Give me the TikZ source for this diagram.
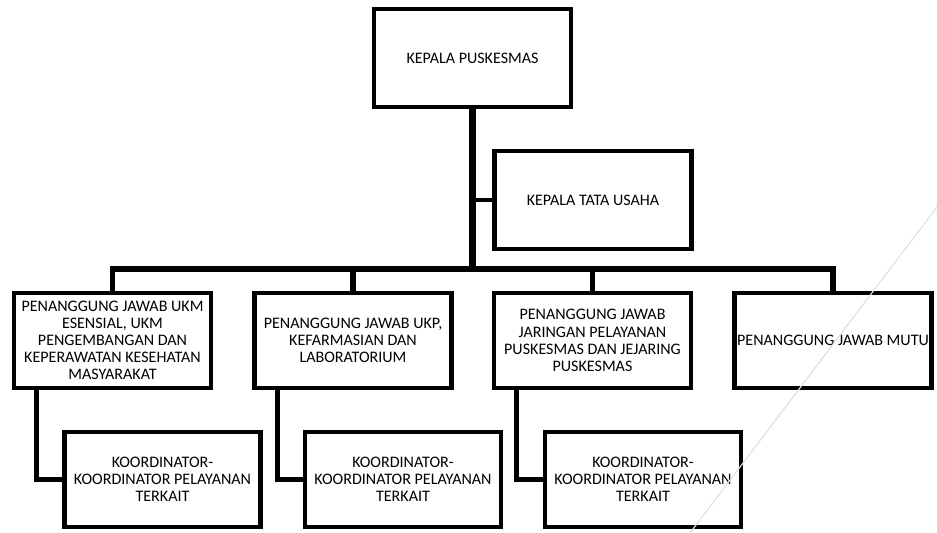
\documentclass[tikz,border=0pt]{standalone}
\usepackage{fontspec}
\setmainfont{Carlito}
\usepackage{tikz}
\usetikzlibrary{calc}

\begin{document}
\begin{tikzpicture}[
      kotak/.style={rectangle, draw, line width=4pt, inner sep=0pt, align=center, font=\fontsize{13.7}{14.6}\selectfont},
      kepala/.style={kotak, minimum width=5.91cm, minimum height=2.94cm},
      pj/.style={kotak, minimum width=5.91cm, minimum height=2.85cm},
      koor/.style={kotak, minimum width=5.88cm, minimum height=2.85cm},
      garis/.style={line width=4.5pt}]
      \useasboundingbox (0,0) rectangle (28.11,15.99);

      \node[kepala] (kapus) at (14.175,14.25) {KEPALA PUSKESMAS};
      \node[kepala] (ktu) at (17.79,9.99) {KEPALA TATA USAHA};

      \node[pj] (pj1) at (3.375,5.775) {PENANGGUNG JAWAB UKM\\ESENSIAL, UKM\\PENGEMBANGAN DAN\\KEPERAWATAN KESEHATAN\\MASYARAKAT};
      \node[pj] (pj2) at (10.59,5.775) {PENANGGUNG JAWAB UKP,\\KEFARMASIAN DAN\\LABORATORIUM};
      \node[pj] (pj3) at (17.775,5.775) {PENANGGUNG JAWAB\\JARINGAN PELAYANAN\\PUSKESMAS DAN JEJARING\\PUSKESMAS};
      \node[pj] (pj4) at (24.99,5.775) {PENANGGUNG JAWAB MUTU};

      \node[koor] (ko1) at (4.875,1.605) {KOORDINATOR-\\KOORDINATOR PELAYANAN\\TERKAIT};
      \node[koor] (ko2) at (12.09,1.605) {KOORDINATOR-\\KOORDINATOR PELAYANAN\\TERKAIT};
      \node[koor] (ko3) at (19.29,1.605) {KOORDINATOR-\\KOORDINATOR PELAYANAN\\TERKAIT};

      \coordinate (bus) at (14.175,7.92);

      % Garis
      \draw[line width=6pt] (kapus.south) -- (bus);
      \draw[line width=3pt] (ktu.west) -- (ktu.west -| kapus.south);
      \draw[garis] (pj1.north) |- (pj4.north |- bus) -- (pj4.north);
      \foreach \n in {pj2, pj3} {
        \draw[garis] (\n.north) -- (\n.north |- bus);
      }
      \foreach \a/\b in {pj1/ko1, pj2/ko2, pj3/ko3} {
        \draw[garis] ($(\a.south west)+(0.75,0)$) |- (\b.west);
      }

      \draw[gray!25, line width=1pt] (28.11,9.78) -- (20.7,0);
    \end{tikzpicture}
\end{document}
